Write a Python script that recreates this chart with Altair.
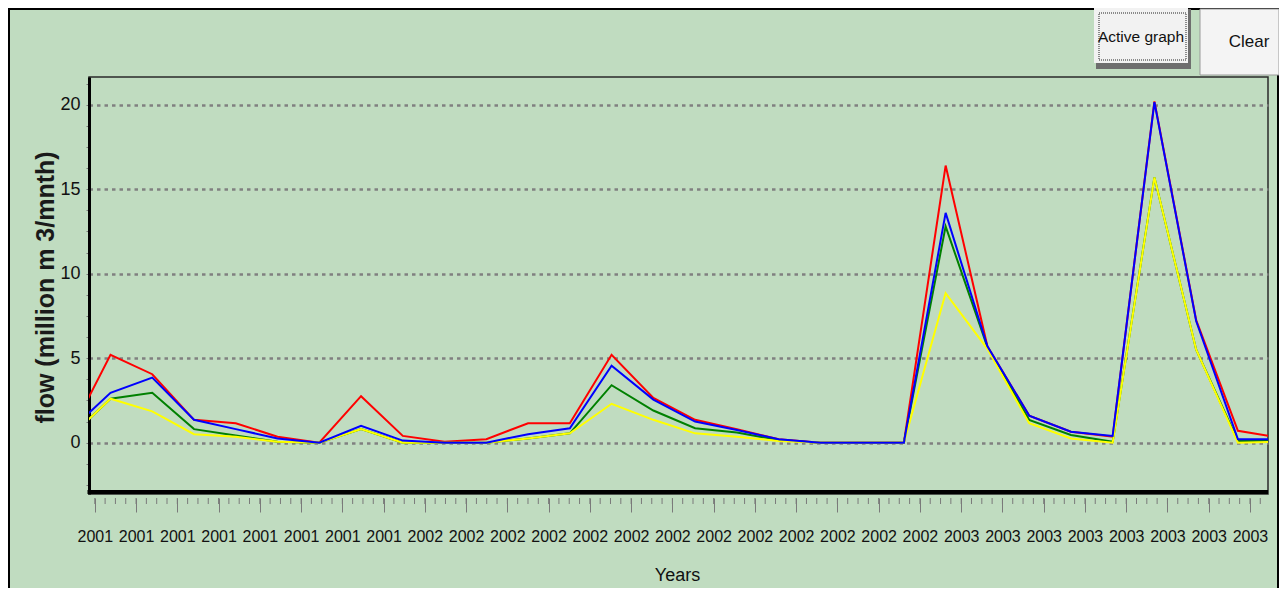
import altair as alt
import pandas as pd

# ---------------- data ----------------
month_index = list(range(-1, 29))          # monthly steps; -1 and 28 run past the frame
red_flow = [0.36, 5.2, 4.05, 1.35, 1.15, 0.35, 0.0, 2.75, 0.4, 0.05, 0.2, 1.15, 1.15, 5.2, 2.65,
            1.35, 0.8, 0.2, 0.0, 0.0, 0.0, 16.4, 5.7, 1.6, 0.65, 0.35, 20.2, 7.25, 0.7, 0.3]
green_flow = [0.26, 2.6, 2.95, 0.8, 0.42, 0.05, 0.0, 0.8, 0.0, 0.0, 0.0, 0.25, 0.55, 3.4, 1.9,
              0.85, 0.6, 0.15, 0.0, 0.0, 0.0, 12.8, 5.65, 1.35, 0.45, 0.05, 15.7, 5.5, 0.1, 0.1]
yellow_flow = [0.26, 2.6, 1.85, 0.5, 0.35, 0.05, 0.0, 0.8, 0.0, 0.0, 0.0, 0.25, 0.55, 2.3, 1.35,
               0.55, 0.35, 0.1, 0.0, 0.0, 0.0, 8.85, 5.55, 1.15, 0.25, 0.0, 15.7, 5.5, 0.0, 0.05]
blue_flow = [0.63, 2.95, 3.85, 1.35, 0.8, 0.25, 0.0, 1.0, 0.12, 0.0, 0.0, 0.5, 0.85, 4.55, 2.55,
             1.25, 0.75, 0.2, 0.0, 0.0, 0.0, 13.6, 5.7, 1.6, 0.65, 0.4, 20.15, 7.2, 0.2, 0.2]
tick_labels = ["2001"] * 8 + ["2002"] * 13 + ["2003"] * 8
y_tick_labels = [0, 5, 10, 15, 20]

# ---------------- layout / style ----------------
BG = "#C0DCC0"
FONT = "Liberation Sans"
W, H = 1179, 417
X_DOMAIN = [-0.515, 27.72]
Y_DOMAIN = [-3.04, 21.64]
TICK0, TICK_STEP = -0.376, 0.988

major_vals = [round(TICK0 + TICK_STEP * j, 4) for j in range(len(tick_labels))]
minor_vals = [round(TICK0 + TICK_STEP * i / 4, 4) for i in range(4 * len(tick_labels) + 1)
              if TICK0 + TICK_STEP * i / 4 <= X_DOMAIN[1]]
y_vals = [-2.5 + 1.25 * i for i in range(20)]
labels_js = "[" + ",".join("'%s'" % t for t in tick_labels) + "]"

x_scale = alt.Scale(domain=X_DOMAIN, nice=False, zero=False)
y_scale = alt.Scale(domain=Y_DOMAIN, nice=False, zero=False)

x_axis = alt.Axis(
    values=major_vals,
    labelExpr="%s[round((datum.value - (%s)) / %s)]" % (labels_js, TICK0, TICK_STEP),
    title="Years", domain=False, grid=False, offset=4,
    tickSize=14, tickColor="#7a7a7a", tickWidth=1,
    labelFont=FONT, labelFontSize=16, labelColor="#111111",
    labelBaseline="middle", labelPadding=24, labelOverlap=False, labelFlush=False,
    titleFont=FONT, titleFontSize=18, titleFontWeight="normal", titleColor="#111111",
    titleX=588, titleY=77, titleBaseline="middle", titleAlign="center",
)
y_axis = alt.Axis(
    values=y_vals,
    labelExpr="indexof(%s, datum.value) >= 0 ? format(datum.value, 'd') : ''" % str(y_tick_labels),
    title="flow (million m 3/mnth)",
    domain=True, domainColor="black", domainWidth=3,
    tickSize=3, tickColor="#7a7a7a", tickWidth=1,
    grid=True, gridColor="#808080", gridWidth=2.5, gridDash=[3.5, 4],
    gridOpacity={"condition": {"test": "datum.value % 5 == 0", "value": 1}, "value": 0},
    labelFont=FONT, labelFontSize=18, labelColor="#111111", labelPadding=6,
    titleFont=FONT, titleFontSize=25, titleFontWeight="bold", titleColor="#1a1a1a",
    titleX=-44, titleY=210, titleAngle=270, titleAlign="center", titleBaseline="middle",
)


def series_layer(values, color):
    df = pd.DataFrame({"month": month_index, "flow": values})
    return alt.Chart(df).mark_line(color=color, strokeWidth=2, clip=True).encode(
        x=alt.X("month:Q", scale=x_scale, axis=x_axis),
        y=alt.Y("flow:Q", scale=y_scale, axis=y_axis),
    )


one = pd.DataFrame({"a": [0]})


def box(x1, x2, y1, y2, **kw):
    return alt.Chart(one).mark_rect(**kw).encode(
        x=alt.value(x1), x2=alt.value(x2), y=alt.value(y1), y2=alt.value(y2))


def hline(x1, x2, y, color, width):
    return alt.Chart(one).mark_rule(color=color, strokeWidth=width).encode(
        x=alt.value(x1), x2=alt.value(x2), y=alt.value(y))


def vline(x, y1, y2, color, width):
    return alt.Chart(one).mark_rule(color=color, strokeWidth=width).encode(
        x=alt.value(x), y=alt.value(y1), y2=alt.value(y2))


def label(txt, x, y, size):
    return alt.Chart(one).mark_text(text=txt, font=FONT, fontSize=size, color="#111111",
                                    align="center", baseline="middle").encode(
        x=alt.value(x), y=alt.value(y))


minor_ticks = alt.Chart(pd.DataFrame({"pos": minor_vals})).mark_rule(
    color="#7a7a7a", strokeWidth=1).encode(
    x=alt.X("pos:Q", scale=x_scale, axis=x_axis),
    y=alt.value(H + 4), y2=alt.value(H + 10))

layers = [
    series_layer(red_flow, "#FF0000"),
    series_layer(green_flow, "#008000"),
    series_layer(yellow_flow, "#FFFF00"),
    series_layer(blue_flow, "#0000FF"),
    minor_ticks,
    hline(-1.5, W, H - 2, "black", 4),
    # window border
    hline(-81, W + 11, -68, "black", 2),
    vline(-80, -69, H + 94, "black", 2),
    vline(W + 10, -69, H + 94, "black", 2),
    # "Active graph" button
    box(1007, 1102, -68, -8, fill="#6e6e6e"),
    box(1005, 1099, -69, -14, fill="#F2F2F2"),
    box(1010, 1097, -64, -17, fillOpacity=0, stroke="#222222", strokeWidth=1, strokeDash=[1, 1]),
    label("Active graph", 1052, -40, 15.5),
    # "Clear" button
    box(1111, 1190, -68, -2, fill="#F4F4F4", stroke="#9a9a9a", strokeWidth=1),
    label("Clear", 1160, -35, 17),
]

chart = alt.layer(*layers).properties(
    width=W, height=H,
    padding={"left": 81, "top": 69, "right": 11, "bottom": 94},
    autosize=alt.AutoSizeParams(type="none"),
).configure(background=BG).configure_view(stroke="#2a2a2a", strokeWidth=1.5)

chart.save("out.html", embed_options={"renderer": "svg", "actions": False})
